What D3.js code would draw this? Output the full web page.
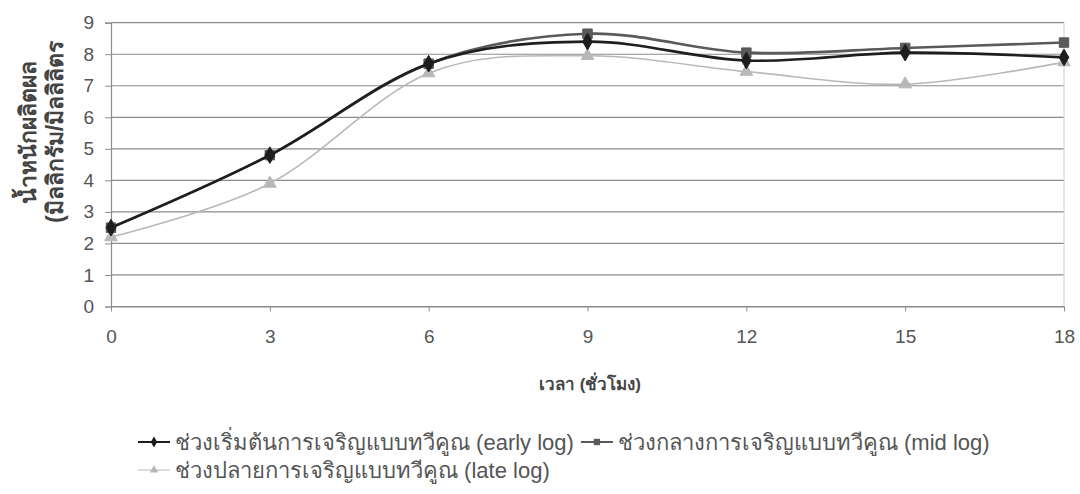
<!DOCTYPE html>
<html>
<head>
<meta charset="utf-8">
<script src="https://cdn.jsdelivr.net/npm/d3@7"></script>
<style>
  html, body { margin: 0; padding: 0; background: #fff; }
  svg { display: block; font-family: "Liberation Sans", Arial, "Noto Sans", sans-serif; }
</style>
</head>
<body>
<svg id="chart" width="1080" height="494"></svg>
<script>
// Sampling times (hours)
const hours = [0, 3, 6, 9, 12, 15, 18];
const yTicks = [0, 1, 2, 3, 4, 5, 6, 7, 8, 9];

// Product weight (mg/mL) for inocula taken at each growth phase
const earlyLog = [2.5, 4.8, 7.7, 8.4, 7.8, 8.05, 7.9];
const midLog   = [2.5, 4.8, 7.7, 8.65, 8.05, 8.2, 8.37];
const lateLog  = [2.2, 3.9, 7.4, 7.95, 7.45, 7.05, 7.75];

const seriesNames = [
  "ช่วงเริ่มต้นการเจริญแบบทวีคูณ (early log)",
  "ช่วงกลางการเจริญแบบทวีคูณ (mid log)",
  "ช่วงปลายการเจริญแบบทวีคูณ (late log)"
];

const series = [
  { name: seriesNames[0], values: earlyLog, color: "#1e1e1e", width: 2.6, symbol: d3.symbolDiamond, size: 80 },
  { name: seriesNames[1], values: midLog,   color: "#5a5a5a", width: 2.6, symbol: d3.symbolSquare,  size: 90 },
  { name: seriesNames[2], values: lateLog,  color: "#b8b8b8", width: 1.6, symbol: d3.symbolTriangle, size: 70 }
];

const svg = d3.select("#chart");
const x = d3.scaleLinear().domain([0, 18]).range([111, 1064]);
const y = d3.scaleLinear().domain([0, 9]).range([306.5, 22.7]);

// Horizontal gridlines
svg.append("g")
  .selectAll("line")
  .data(yTicks)
  .join("line")
  .attr("x1", x(0)).attr("x2", x(18))
  .attr("y1", d => y(d)).attr("y2", d => y(d))
  .attr("stroke", "#8c8c8c")
  .attr("stroke-width", 1.2);

// Right border of the plot area
svg.append("line")
  .attr("x1", x(18)).attr("x2", x(18))
  .attr("y1", y(9)).attr("y2", y(0))
  .attr("stroke", "#d0d0d0").attr("stroke-width", 1);

// Y axis
const yAxis = d3.axisLeft(y).tickValues(yTicks).tickSize(6).tickPadding(11).tickFormat(d3.format("d"));
const gy = svg.append("g").attr("transform", `translate(${x(0)},0)`).call(yAxis);
gy.select(".domain").attr("stroke", "#8c8c8c").attr("stroke-width", 1.2);
gy.selectAll(".tick line").attr("stroke", "#8c8c8c");
gy.selectAll(".tick text").attr("fill", "#555").attr("font-size", 19);

// X axis
const xAxis = d3.axisBottom(x).tickValues(hours).tickSize(5).tickPadding(18).tickSizeOuter(0).tickFormat(d3.format("d"));
const gx = svg.append("g").attr("transform", `translate(0,${y(0)})`).call(xAxis);
gx.select(".domain").attr("stroke", "#8c8c8c").attr("stroke-width", 1.2);
gx.selectAll(".tick line").attr("stroke", "#8c8c8c");
gx.selectAll(".tick text").attr("fill", "#555").attr("font-size", 19);

// Axis titles
svg.append("text")
  .attr("x", 590).attr("y", 390)
  .attr("text-anchor", "middle")
  .attr("font-size", 17).attr("font-weight", "bold").attr("fill", "#444")
  .text("เวลา (ชั่วโมง)");

const yTitle = svg.append("text")
  .attr("transform", "translate(0,132) rotate(-90)")
  .attr("text-anchor", "middle")
  .attr("font-size", 23).attr("font-weight", "bold").attr("fill", "#444");
yTitle.append("tspan").attr("x", 0).attr("y", 36).text("น้ำหนักผลิตผล");
yTitle.append("tspan").attr("x", 0).attr("y", 63).text("(มิลลิกรัม/มิลลิลิตร");

// Smoothed series lines with markers
const line = d3.line()
  .x((d, i) => x(hours[i]))
  .y(d => y(d))
  .curve(d3.curveCardinal.tension(0));

[2, 1, 0].forEach(k => {
  const s = series[k];
  const g = svg.append("g");
  g.append("path")
    .attr("d", line(s.values))
    .attr("fill", "none")
    .attr("stroke", s.color)
    .attr("stroke-width", s.width);
  g.selectAll("path.m")
    .data(s.values)
    .join("path")
    .attr("class", "m")
    .attr("transform", (d, i) => `translate(${x(hours[i])},${y(d)})`)
    .attr("d", d3.symbol().type(s.symbol).size(s.size))
    .attr("fill", s.color)
    .attr("stroke", s.color)
    .attr("stroke-width", 1);
});

// Legend: two items on the first row, one on the second
const legendRows = [442, 470];
const legendLayout = [{ row: 0 }, { row: 0 }, { row: 1 }];
let cursor = 138;
series.forEach((s, k) => {
  const rowY = legendRows[legendLayout[k].row];
  if (k === 2) cursor = 138;
  const g = svg.append("g").attr("transform", `translate(${cursor},${rowY})`);
  g.append("line")
    .attr("x1", 0).attr("x2", 32).attr("y1", 0).attr("y2", 0)
    .attr("stroke", s.color).attr("stroke-width", s.width - 0.6);
  g.append("path")
    .attr("transform", "translate(16,0)")
    .attr("d", d3.symbol().type(s.symbol).size(s.size * 0.45))
    .attr("fill", s.color);
  const t = g.append("text")
    .attr("x", 37).attr("y", 0).attr("dy", "0.35em")
    .attr("font-size", 22).attr("fill", "#555")
    .text(s.name);
  cursor += 37 + t.node().getComputedTextLength() + 7;
});
</script>
</body>
</html>
